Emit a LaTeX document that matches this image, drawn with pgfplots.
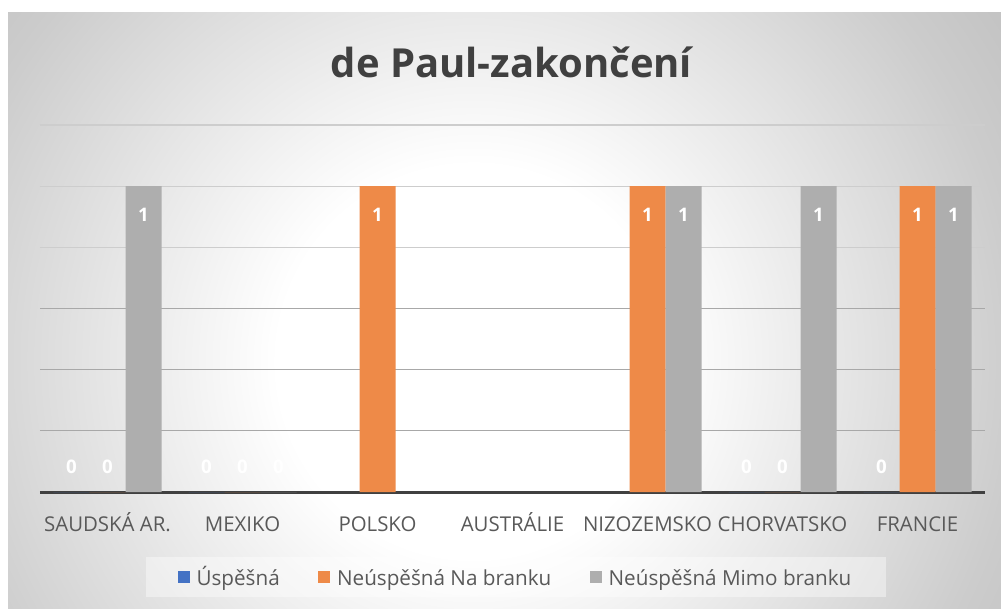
\documentclass[border=0pt]{standalone}
\usepackage{pgfplots}
\pgfplotsset{compat=1.18}
\usepackage{fontspec}
\setmainfont{Open Sans}
\definecolor{cblue}{HTML}{4472C4}
\definecolor{corange}{HTML}{EE8A48}
\definecolor{cgray}{HTML}{AEAEAE}
\definecolor{ctext}{HTML}{595959}
\definecolor{ctitle}{HTML}{404040}
\definecolor{gridA}{HTML}{A8A8A8}
\definecolor{gridB}{HTML}{CDCDCD}
\pgfdeclareradialshading{bgshade}{\pgfpoint{0bp}{0bp}}{color(0bp)=(white); color(14bp)=(white); color(39bp)=(black!20); color(50bp)=(black!26)}
\newcommand{\ls}{\rule[-4pt]{0pt}{18pt}}
\begin{document}
\begin{tikzpicture}
\fill[white] (0pt,0pt) rectangle (750.75pt,456pt);
\begin{scope}
\clip (6pt,0pt) rectangle (750.75pt,446.25pt);
\pgftransformshift{\pgfpoint{355pt}{185pt}}
\pgftransformscale{10.46}
\pgflowlevelsynccm
\pgfuseshading{bgshade}
\end{scope}
\node[anchor=base, font=\fontsize{30}{36}\selectfont\bfseries, text=ctitle] at (383.6pt,397.5pt) {de Paul-zakončení};
\begin{axis}[
  at={(30pt,87pt)}, anchor=south west,
  scale only axis, width=708.75pt, height=275.25pt,
  xmin=-0.5, xmax=6.5, ymin=0, ymax=1.2,
  ybar=0pt, bar width=27pt,
  axis x line*=bottom, axis y line*=left,
  x axis line style={draw=ctitle, line width=2.25pt, -},
  y axis line style={draw=none},
  major tick length=0pt,
  /pgf/number format/assume math mode=true,
  xtick={0,1,2,3,4,5,6},
  xticklabels={SAUDSKÁ AR., MEXIKO, POLSKO, AUSTRÁLIE, NIZOZEMSKO, CHORVATSKO, FRANCIE},
  xticklabel style={anchor=base, yshift=-29.25pt, font=\fontsize{15.3}{18}\selectfont, text=ctext},
  ytick={0.2,0.4,0.6}, yticklabels={},
  ymajorgrids, grid style={draw=gridA, line width=0.9pt},
  extra y ticks={0.8,1.0,1.2}, extra y tick labels={},
  extra y tick style={grid style={draw=gridB, line width=0.9pt}},
  nodes near coords,
  visualization depends on={rawy \as \rawy},
  every node near coord/.append style={anchor=center, yshift=18.75pt-40.5pt*\rawy, font=\fontsize{14}{16}\selectfont\bfseries, text=white},
  legend style={at={(0.5037,-0.2316)}, anchor=center, legend columns=3, draw=none, fill=white, fill opacity=0.4, text opacity=1, font=\fontsize{15.5}{18}\selectfont, text=ctext, inner xsep=24pt, inner ysep=5pt,
    /tikz/every odd column/.append style={column sep=3pt},
    /tikz/every even column/.append style={column sep=27pt}},
  legend image code/.code={\fill[#1, fill opacity=1] (0pt,-4.5pt) rectangle (9pt,4.5pt);},
]
\addplot[fill=cblue, draw=none] coordinates {(0,0) (1,0) (5,0) (6,0)};
\addplot[fill=corange, draw=none] coordinates {(0,0) (1,0) (2,1) (4,1) (5,0) (6,1)};
\addplot[fill=cgray, draw=none] coordinates {(0,1) (1,0) (4,1) (5,1) (6,1)};
\legend{\ls Úspěšná, \ls Neúspěšná Na branku, \ls Neúspěšná Mimo branku}
\end{axis}
\pgfresetboundingbox
\path[use as bounding box] (0pt,0pt) rectangle (750.75pt,456pt);
\end{tikzpicture}
\end{document}
